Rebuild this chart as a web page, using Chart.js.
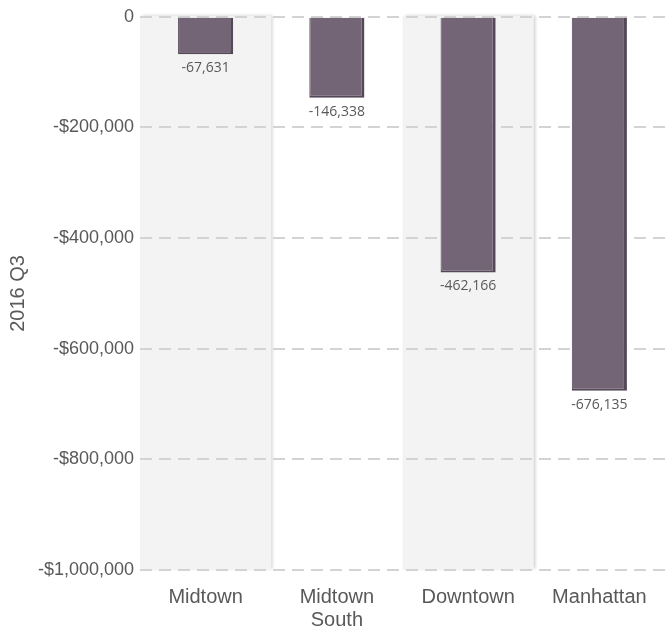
<!DOCTYPE html>
<html>
<head>
<meta charset="utf-8">
<script src="https://cdn.jsdelivr.net/npm/chart.js@4/dist/chart.umd.min.js"></script>
<style>
  html, body { margin: 0; padding: 0; background: #ffffff; }
  #wrap { width: 665px; height: 629px; }
</style>
</head>
<body>
<div id="wrap"><canvas id="chart" width="665" height="629"></canvas></div>
<script>
// Net change by submarket, 2016 Q3
const categories = ['Midtown', ['Midtown', 'South'], 'Downtown', 'Manhattan'];
const values = [-67631, -146338, -462166, -676135];
const yTicks = [0, -200000, -400000, -600000, -800000, -1000000];
const axisTitle = '2016 Q3';

const textColor = '#595959';
const barFill = '#736575';
const barEdge = '#544859';
const bandFill = '#f2f3f2';

// Shaded column bands behind every other category
const bandPlugin = {
  id: 'bands',
  beforeDraw(chart) {
    const { ctx, chartArea, scales } = chart;
    const xs = scales.x;
    const step = xs.getPixelForValue(1) - xs.getPixelForValue(0);
    for (let i = 0; i < categories.length; i += 2) {
      const left = xs.getPixelForValue(i) - step / 2;
      ctx.save();
      ctx.shadowColor = 'rgba(0,0,0,0.18)';
      ctx.shadowBlur = 3;
      ctx.shadowOffsetX = 2;
      ctx.shadowOffsetY = -1;
      ctx.fillStyle = bandFill;
      ctx.fillRect(left, chartArea.top - 1, step, chartArea.bottom - chartArea.top + 1);
      ctx.restore();
    }
  }
};

// Value labels under each bar end
const valueLabelPlugin = {
  id: 'valueLabels',
  afterDatasetsDraw(chart) {
    const { ctx } = chart;
    const meta = chart.getDatasetMeta(0);
    ctx.save();
    ctx.font = '14px "Open Sans"';
    ctx.fillStyle = textColor;
    ctx.textAlign = 'center';
    ctx.textBaseline = 'top';
    meta.data.forEach((bar, i) => {
      ctx.fillText(values[i].toLocaleString('en-US'), bar.x, bar.y + 7);
    });
    ctx.restore();
  }
};

new Chart(document.getElementById('chart'), {
  type: 'bar',
  data: {
    labels: categories,
    datasets: [{
      data: values,
      backgroundColor: barFill,
      borderColor: barEdge,
      borderWidth: { left: 1, right: 3, top: 0, bottom: 2 },
      borderSkipped: false,
      barPercentage: 0.42,
      categoryPercentage: 1.0
    }]
  },
  options: {
    responsive: false,
    animation: false,
    devicePixelRatio: 1,
    layout: { padding: { top: 8, right: 0, left: 0, bottom: 0 } },
    plugins: {
      legend: { display: false },
      tooltip: { enabled: false }
    },
    scales: {
      x: {
        grid: { display: false },
        border: { display: false },
        ticks: {
          color: textColor,
          font: { family: '"Liberation Sans", Arial, sans-serif', size: 20, lineHeight: 1.15 },
          padding: 8,
          maxRotation: 0,
          autoSkip: false
        },
        afterFit(scale) { scale.height = 59; }
      },
      y: {
        min: -1000000,
        max: 0,
        afterBuildTicks(scale) {
          scale.ticks = yTicks.map(v => ({ value: v }));
        },
        grid: {
          color: '#d3d3d3',
          lineWidth: 2,
          drawTicks: false
        },
        border: { display: false, dash: [12, 7] },
        ticks: {
          color: textColor,
          font: { family: '"Liberation Sans", Arial, sans-serif', size: 18 },
          padding: 6,
          callback(v) {
            return v === 0 ? '0' : '-$' + Math.abs(v).toLocaleString('en-US');
          }
        },
        title: {
          display: true,
          text: axisTitle,
          color: textColor,
          font: { family: '"Liberation Sans", Arial, sans-serif', size: 20 },
          padding: { top: 6, bottom: 0 }
        },
        afterFit(scale) { scale.width = 140; }
      }
    }
  },
  plugins: [bandPlugin, valueLabelPlugin]
});
</script>
</body>
</html>
